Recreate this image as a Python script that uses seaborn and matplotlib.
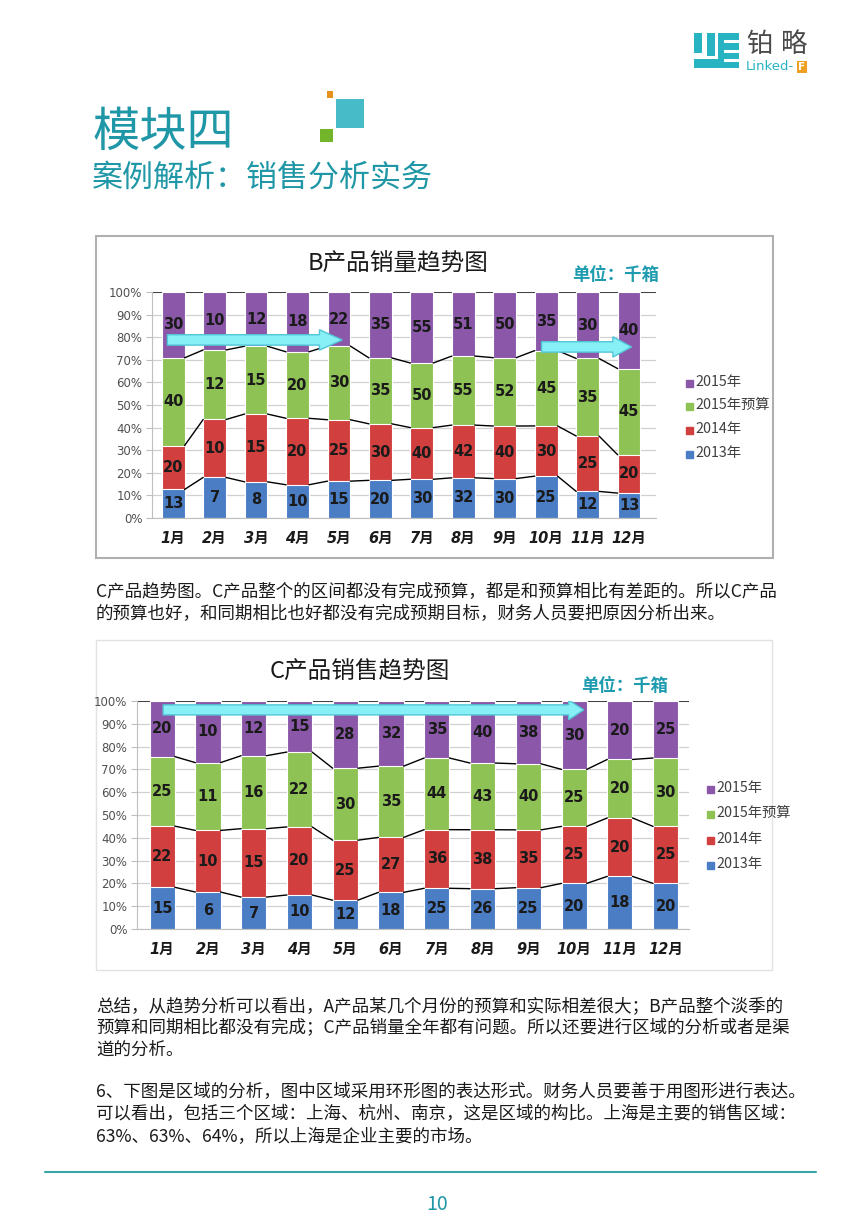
import numpy as np
import matplotlib
matplotlib.use("Agg")
import matplotlib.pyplot as plt
from matplotlib.patches import Rectangle, FancyArrow
import seaborn as sns

# ---- data ----
months = ["1月", "2月", "3月", "4月", "5月", "6月", "7月", "8月", "9月", "10月", "11月", "12月"]
series_names = ["2013年", "2014年", "2015年预算", "2015年"]

b_2013 = [13, 7, 8, 10, 15, 20, 30, 32, 30, 25, 12, 13]
b_2014 = [20, 10, 15, 20, 25, 30, 40, 42, 40, 30, 25, 20]
b_budget = [40, 12, 15, 20, 30, 35, 50, 55, 52, 45, 35, 45]
b_2015 = [30, 10, 12, 18, 22, 35, 55, 51, 50, 35, 30, 40]

c_2013 = [15, 6, 7, 10, 12, 18, 25, 26, 25, 20, 18, 20]
c_2014 = [22, 10, 15, 20, 25, 27, 36, 38, 35, 25, 20, 25]
c_budget = [25, 11, 16, 22, 30, 35, 44, 43, 40, 25, 20, 30]
c_2015 = [20, 10, 12, 15, 28, 32, 35, 40, 38, 30, 20, 25]

colors = ["#4a7dc4", "#d13f3f", "#8fc254", "#8b57a8"]
teal = "#1f97a6"

W, H = 850, 1228

sns.set_style("white")
plt.rcParams["font.family"] = ["Noto Sans CJK SC", "DejaVu Sans"]

fig = plt.figure(figsize=(W / 100, H / 100), dpi=100)
bg = fig.add_axes([0, 0, 1, 1], zorder=0)
bg.set_xlim(0, W)
bg.set_ylim(H, 0)
bg.axis("off")


def box(left, top, right, bottom):
    return [left / W, 1 - bottom / H, (right - left) / W, (bottom - top) / H]


def draw_chart(ax, vals, bar_w, xlim, arrows):
    data = np.array(vals, dtype=float)
    share = data / data.sum(axis=0)
    cum = np.cumsum(share, axis=0)
    # stacked bars: draw cumulative totals back to front
    for k in [3, 2, 1, 0]:
        sns.barplot(x=months, y=cum[k], order=months, color=colors[k], saturation=1,
                    width=bar_w, edgecolor="white", linewidth=0.8, errorbar=None,
                    ax=ax, zorder=2)
    # series lines between bars
    for k in range(3):
        for i in range(len(months) - 1):
            ax.plot([i + bar_w / 2, i + 1 - bar_w / 2], [cum[k, i], cum[k, i + 1]],
                    color="black", lw=1, zorder=3)
    # value labels
    for k in range(4):
        for i in range(len(months)):
            ax.text(i, cum[k, i] - share[k, i] / 2, str(int(data[k, i])), ha="center",
                    va="center", fontsize=10.5, fontweight="bold", color="#1a1a1a",
                    family="DejaVu Sans", zorder=4)
    for x0, x1, y, shaft, head, hl in arrows:
        ax.add_patch(FancyArrow(x0, y, x1 - x0, 0, width=shaft, head_width=head,
                                head_length=hl, length_includes_head=True,
                                fc="#86f0f6", ec="#52c6d6", lw=1, zorder=5))
    ax.set_xlim(*xlim)
    ax.set_ylim(0, 1)
    ticks = np.arange(0, 1.01, 0.1)
    ax.set_yticks(ticks)
    ax.set_yticklabels([f"{int(round(t * 100))}%" for t in ticks], fontsize=8.5,
                       color="#505050", family="DejaVu Sans")
    ax.set_xticks(range(len(months)))
    ax.set_xticklabels(months, fontsize=10.5, fontweight="bold", fontstyle="italic",
                       family=["DejaVu Sans", "Noto Sans CJK SC"], color="#1a1a1a")
    ax.yaxis.grid(True, color="#d0d0d0", lw=0.9)
    ax.set_axisbelow(True)
    ax.axhline(1.0, color="#333333", lw=1.3, zorder=1)
    ax.tick_params(axis="y", length=4, color="#bfbfbf", pad=3, left=True)
    ax.tick_params(axis="x", length=0, pad=9)
    for s in ["top", "right"]:
        ax.spines[s].set_visible(False)
    for s in ["left", "bottom"]:
        ax.spines[s].set_color("#bfbfbf")
    ax.set_xlabel("")
    ax.set_ylabel("")


def legend(x, ys, size):
    for name, color, y in zip(series_names[::-1], colors[::-1], ys):
        bg.add_patch(Rectangle((x, y - size / 2 + 1), size, size, color=color, zorder=3))
        bg.text(x + size + 2, y, name, fontsize=10.3, color="#404040", va="center",
                ha="left", zorder=3)


# ---- header ----
# logo
icon = [(40, 40, 62, 100), (40, 118, 108, 145), (78, 40, 100, 108),
        (110, 40, 170, 60), (110, 60, 125, 145), (125, 70, 170, 90),
        (125, 98, 170, 116), (125, 125, 170, 145)]
for zx0, zy0, zx1, zy1 in icon:
    x0, y0 = 680 + zx0 / 2.86, 20 + zy0 / 3
    x1, y1 = 680 + zx1 / 2.86, 20 + zy1 / 3
    bg.add_patch(Rectangle((x0, y0), x1 - x0, y1 - y0, color="#27b3c2", lw=0))
bg.text(759, 45, "铂", fontsize=19, color="#4a4a4a", ha="center", va="center")
bg.text(794, 45, "略", fontsize=19, color="#4a4a4a", ha="center", va="center")
bg.text(746, 67, "Linked-", fontsize=9.5, color="#27b3c2", ha="left", va="center",
        family="DejaVu Sans")
bg.add_patch(Rectangle((797, 61), 10, 12, color="#f0a020", lw=0))
bg.text(802, 67, "F", fontsize=7.5, color="white", ha="center", va="center",
        fontweight="bold", family="DejaVu Sans")

# decorative squares
bg.add_patch(Rectangle((327, 91), 6, 7, color="#e8901c", lw=0))
bg.add_patch(Rectangle((336, 99), 28, 29, color="#47bcc8", lw=0))
bg.add_patch(Rectangle((320, 129), 13, 13, color="#72b52a", lw=0))

bg.text(92, 133, "模块四", fontsize=34, color=teal, ha="left", va="center")
bg.text(92, 178, "案例解析：销售分析实务", fontsize=22.3, color=teal, ha="left", va="center")

# ---- chart B ----
bg.add_patch(Rectangle((96, 236), 677, 322, fc="white", ec="#b0b0b0", lw=1.5))
bg.text(398, 264, "B产品销量趋势图", fontsize=17, color="#1a1a1a", ha="center", va="center")
bg.text(616, 275, "单位：千箱", fontsize=12.5, color="#1f9bb0", ha="center", va="center",
        fontweight="bold")
ax1 = fig.add_axes(box(152, 292, 656, 518), zorder=2)
draw_chart(ax1, [b_2013, b_2014, b_budget, b_2015], 0.55, (-0.51, 11.65),
           [(-0.14, 4.08, 0.788, 0.046, 0.09, 0.55),
            (8.89, 11.06, 0.757, 0.046, 0.09, 0.45)])
legend(686, [382, 405, 429, 453], 7)

bg.text(96, 592, "C产品趋势图。C产品整个的区间都没有完成预算，都是和预算相比有差距的。所以C产品",
        fontsize=12.6, color="#1a1a1a", ha="left", va="center")
bg.text(96, 614, "的预算也好，和同期相比也好都没有完成预期目标，财务人员要把原因分析出来。",
        fontsize=12.6, color="#1a1a1a", ha="left", va="center")

# ---- chart C ----
bg.add_patch(Rectangle((96, 640), 676, 330, fc="white", ec="#e2e2e2", lw=1))
bg.text(360, 672, "C产品销售趋势图", fontsize=17, color="#1a1a1a", ha="center", va="center")
bg.text(625, 686, "单位：千箱", fontsize=12.5, color="#1f9bb0", ha="center", va="center",
        fontweight="bold")
ax2 = fig.add_axes(box(137, 701, 689, 929), zorder=2)
draw_chart(ax2, [c_2013, c_2014, c_budget, c_2015], 0.55, (-0.55, 11.51),
           [(0.02, 9.21, 0.961, 0.044, 0.087, 0.33)])
legend(707, [788, 813, 839, 864], 7)

# ---- body text ----
lines = [
    (1006, "总结，从趋势分析可以看出，A产品某几个月份的预算和实际相差很大；B产品整个淡季的"),
    (1028, "预算和同期相比都没有完成；C产品销量全年都有问题。所以还要进行区域的分析或者是渠"),
    (1050, "道的分析。"),
    (1092, "6、下图是区域的分析，图中区域采用环形图的表达形式。财务人员要善于用图形进行表达。"),
    (1114, "可以看出，包括三个区域：上海、杭州、南京，这是区域的构比。上海是主要的销售区域："),
    (1136, "63%、63%、64%，所以上海是企业主要的市场。"),
]
for y, s in lines:
    bg.text(96, y, s, fontsize=12.6, color="#1a1a1a", ha="left", va="center")

bg.plot([45, 816], [1172, 1172], color="#3aa5a8", lw=1.5)
bg.text(437, 1205, "10", fontsize=14, color=teal, ha="center", va="center")

fig.savefig("out.png", dpi=100)
